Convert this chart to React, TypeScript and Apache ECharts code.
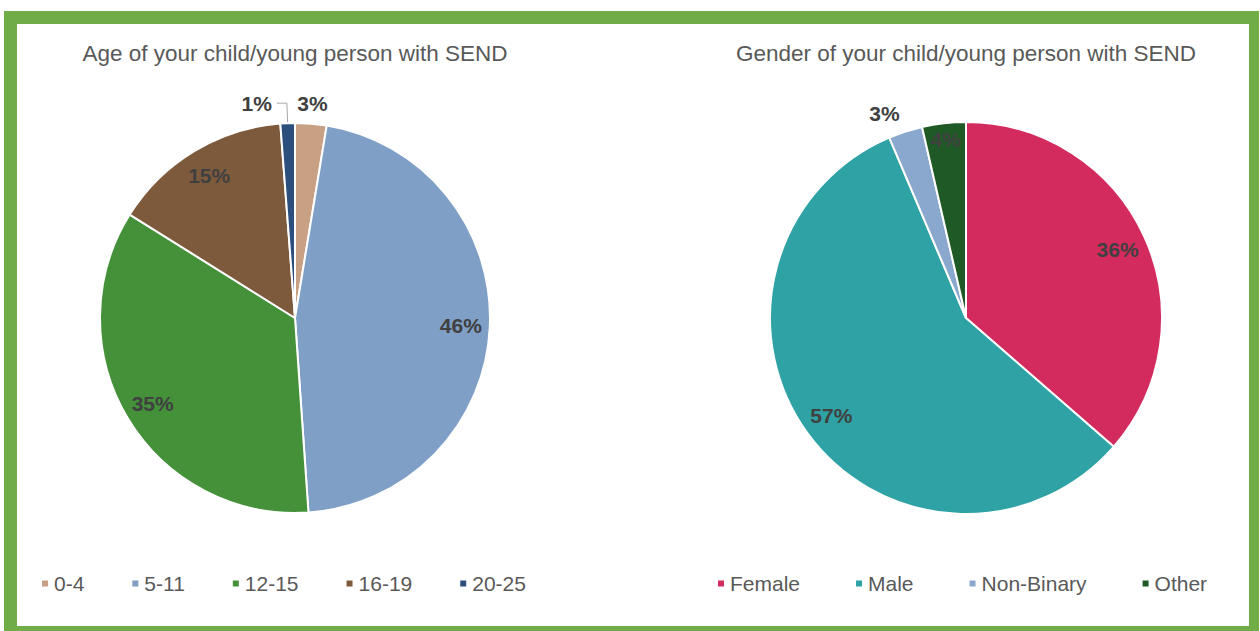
import React, { useEffect, useRef } from 'react';
import * as echarts from 'echarts';

// ---- Data ----
const ageTitle = 'Age of your child/young person with SEND';
const ageCategories = ['0-4', '5-11', '12-15', '16-19', '20-25'];
const ageValues = [2.6, 46.3, 35.0, 14.9, 1.2];
const ageColors = ['#C8A084', '#7F9FC6', '#44913A', '#7E5A3D', '#2D4F7E'];

const genderTitle = 'Gender of your child/young person with SEND';
const genderCategories = ['Female', 'Male', 'Non-Binary', 'Other'];
const genderValues = [36.4, 57.2, 2.8, 3.6];
const genderColors = ['#D42B5F', '#2EA2A4', '#8AA8CE', '#1F5A26'];

// which slice labels sit where (indices into the arrays above)
const ageInnerLabels = [1, 2, 3];
const ageTopLabels = [0];
const ageLeaderLabels = [4];
const genderInnerLabels = [0, 1];
const genderDeepLabels = [3];
const genderOutsideLabels = [2];

const FONT = '"Liberation Sans", Arial, sans-serif';
const labelText = {
  fontFamily: FONT,
  fontSize: 21,
  fontWeight: 'bold' as const,
  color: '#404040',
};
const pctFormatter = (p: any) => Math.round(p.percent) + '%';

function mainPie(
  center: number[],
  radius: number,
  names: string[],
  values: number[],
  colors: string[],
  outsideIdx: number[],
  lineShown: boolean,
  lineLen: number,
  lineLen2: number,
  dist: number
) {
  return {
    type: 'pie',
    center,
    radius: [0, radius],
    startAngle: 90,
    clockwise: true,
    avoidLabelOverlap: false,
    silent: true,
    itemStyle: { borderColor: '#ffffff', borderWidth: 2 },
    label: { show: false },
    labelLine: { show: false },
    emphasis: { disabled: true },
    data: names.map((n, i) => {
      const item: any = { name: n, value: values[i], itemStyle: { color: colors[i] } };
      if (outsideIdx.includes(i)) {
        item.label = {
          show: true,
          position: 'outside',
          formatter: pctFormatter,
          distanceToLabelLine: dist,
          ...labelText,
        };
        item.labelLine = {
          show: lineShown,
          length: lineLen,
          length2: lineLen2,
          lineStyle: { color: '#A6A6A6', width: 1 },
        };
      }
      return item;
    }),
  };
}

function labelRing(center: number[], radius: number[], names: string[], values: number[], showIdx: number[]) {
  return {
    type: 'pie',
    center,
    radius,
    startAngle: 90,
    clockwise: true,
    silent: true,
    legendHoverLink: false,
    avoidLabelOverlap: false,
    itemStyle: { color: 'rgba(0,0,0,0)', borderWidth: 0 },
    labelLine: { show: false },
    emphasis: { disabled: true },
    label: { show: false, position: 'inside', formatter: pctFormatter, ...labelText },
    data: names.map((n, i) => ({
      name: n,
      value: values[i],
      label: { show: showIdx.includes(i) },
    })),
  };
}

export default function App() {
  const ref = useRef<HTMLDivElement>(null);

  useEffect(() => {
    if (!ref.current) return;
    const chart = echarts.init(ref.current, undefined, { renderer: 'svg' });
    const leftC = [295, 318];
    const rightC = [966, 318];
    const R = 195;
    const titleStyle = { fontFamily: FONT, fontSize: 22.5, fontWeight: 'normal', color: '#595959' };
    const legendText = { fontFamily: FONT, fontSize: 21, color: '#595959' };

    chart.setOption({
      animation: false,
      graphic: [
        { type: 'rect', z: -10, silent: true, shape: { x: 4, y: 11, width: 1255, height: 620 }, style: { fill: '#70AD47' } },
        { type: 'rect', z: -9, silent: true, shape: { x: 17, y: 24, width: 1232, height: 602 }, style: { fill: '#ffffff' } },
      ],
      title: [
        { text: ageTitle, left: 295, top: 42, padding: 0, textAlign: 'center', textStyle: titleStyle },
        { text: genderTitle, left: 966, top: 42, padding: 0, textAlign: 'center', textStyle: titleStyle },
      ],
      legend: [
        {
          data: ageCategories,
          left: 40,
          top: 573,
          padding: 0,
          icon: 'rect',
          itemWidth: 8,
          itemHeight: 8,
          itemGap: 46,
          selectedMode: false,
          textStyle: legendText,
        },
        {
          data: genderCategories,
          left: 716,
          top: 573,
          padding: 0,
          icon: 'rect',
          itemWidth: 8,
          itemHeight: 8,
          itemGap: 54,
          selectedMode: false,
          textStyle: legendText,
        },
      ],
      series: [
        mainPie(leftC, R, ageCategories, ageValues, ageColors, ageLeaderLabels, true, 20, 10, 5),
        mainPie(rightC, R + 1, genderCategories, genderValues, genderColors, genderOutsideLabels, false, 19, 0, 0),
        labelRing(leftC, [131, R], ageCategories, ageValues, ageInnerLabels),
        labelRing(leftC, [200, 224], ageCategories, ageValues, ageTopLabels),
        labelRing(rightC, [131, R + 1], genderCategories, genderValues, genderInnerLabels),
        labelRing(rightC, [157, R + 1], genderCategories, genderValues, genderDeepLabels),
      ],
    });
    return () => chart.dispose();
  }, []);

  return <div ref={ref} style={{ position: 'absolute', left: 0, top: 0, width: 1260, height: 631 }} />;
}
